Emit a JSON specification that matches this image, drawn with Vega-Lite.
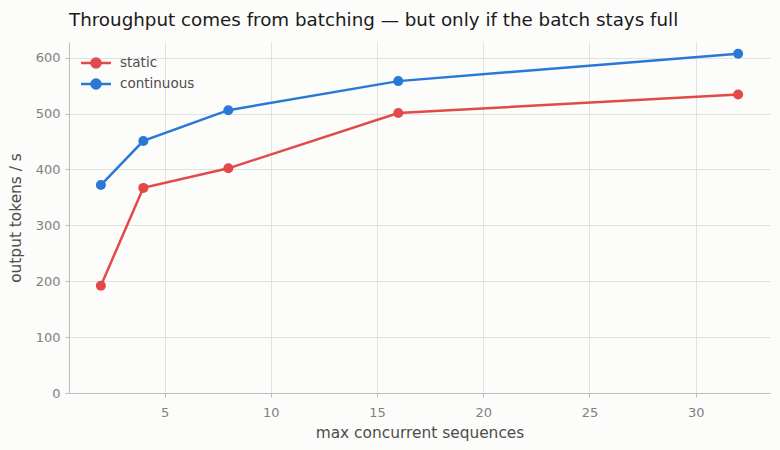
{
  "$schema": "https://vega.github.io/schema/vega-lite/v6.json",
  "width": 701,
  "height": 351,
  "autosize": {"type": "none"},
  "padding": {"left": 69, "top": 42, "right": 10, "bottom": 57},
  "background": "#fcfcfa",
  "title": {
    "text": "Throughput comes from batching — but only if the batch stays full",
    "anchor": "start",
    "frame": "group",
    "font": "DejaVu Sans",
    "fontSize": 18.3,
    "fontWeight": "normal",
    "color": "#1a1a1a",
    "baseline": "alphabetic",
    "offset": -2
  },
  "config": {
    "view": {"stroke": null},
    "font": "DejaVu Sans",
    "axis": {
      "gridColor": "#e2e2e0",
      "gridWidth": 1,
      "domainColor": "#bdbdbd",
      "tickColor": "#bdbdbd",
      "tickSize": 4,
      "labelColor": "#808080",
      "labelFontSize": 13,
      "titleColor": "#4d4d4d",
      "titleFontSize": 15.4,
      "titleFontWeight": "normal",
      "labelPadding": 5
    }
  },
  "data": {
    "values": [
      {"seq": 2, "tps": 192, "mode": "static"},
      {"seq": 4, "tps": 367, "mode": "static"},
      {"seq": 8, "tps": 402, "mode": "static"},
      {"seq": 16, "tps": 501, "mode": "static"},
      {"seq": 32, "tps": 534, "mode": "static"},
      {"seq": 2, "tps": 372, "mode": "continuous"},
      {"seq": 4, "tps": 451, "mode": "continuous"},
      {"seq": 8, "tps": 506, "mode": "continuous"},
      {"seq": 16, "tps": 558, "mode": "continuous"},
      {"seq": 32, "tps": 607, "mode": "continuous"}
    ]
  },
  "encoding": {
    "x": {
      "field": "seq",
      "type": "quantitative",
      "scale": {"domain": [0.5, 33.5], "nice": false, "zero": false},
      "axis": {"values": [5, 10, 15, 20, 25, 30], "title": "max concurrent sequences", "labelPadding": 9, "titlePadding": 6}
    },
    "y": {
      "field": "tps",
      "type": "quantitative",
      "scale": {"domain": [0, 628], "nice": false},
      "axis": {"values": [0, 100, 200, 300, 400, 500, 600], "title": "output tokens / s", "titlePadding": 12}
    },
    "color": {
      "field": "mode",
      "type": "nominal",
      "sort": ["static", "continuous"],
      "scale": {"domain": ["static", "continuous"], "range": ["#e24a4a", "#2a78d6"]},
      "legend": {
        "title": null,
        "orient": "top-left",
        "offset": 12,
        "labelFontSize": 13.5,
        "labelColor": "#4d4d4d",
        "symbolType": "M-2,0H2M-0.6,0A0.6,0.6 0 1,0 0.6,0A0.6,0.6 0 1,0 -0.6,0",
        "symbolSize": 225,
        "symbolStrokeWidth": 2.5,
        "symbolOffset": 6,
        "rowPadding": 1,
        "labelOffset": 15,
        "encode": {
          "symbols": {"update": {"fill": {"scale": "color", "field": "value"}, "stroke": {"scale": "color", "field": "value"}, "fillOpacity": {"value": 1}}}
        }
      }
    }
  },
  "layer": [
    {"mark": {"type": "line", "strokeWidth": 2.5}},
    {"mark": {"type": "circle", "size": 100, "opacity": 1}}
  ]
}
